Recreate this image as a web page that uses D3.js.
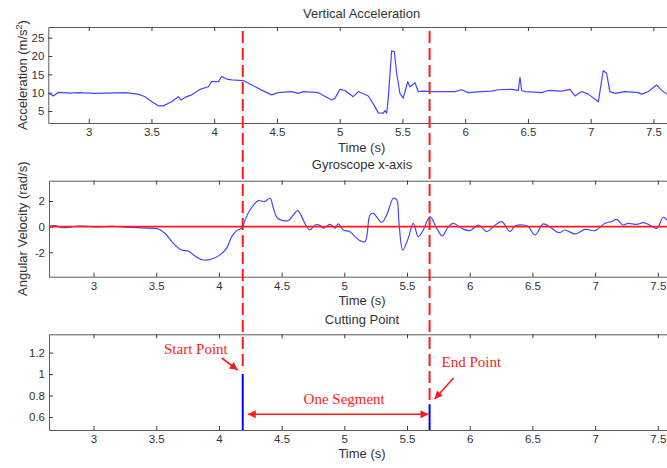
<!DOCTYPE html>
<html>
<head>
<meta charset="utf-8">
<script src="https://cdn.jsdelivr.net/npm/d3@7"></script>
<style>
  html, body { margin: 0; padding: 0; background: #fff; }
  svg { display: block; }
  .tick text { font-family: "Liberation Sans", Arial, sans-serif; font-size: 11.5px; fill: #333; }
  .lbl { font-family: "Liberation Sans", Arial, sans-serif; font-size: 13px; fill: #333; }
  .ann { font-family: "Liberation Serif", "Times New Roman", serif; font-size: 15px; fill: #ff1a1a; }
</style>
</head>
<body>
<svg id="fig" width="667" height="468"></svg>
<script>
// Vertical acceleration (m/s^2) over time (s)
const accTime = [
  2.678, 2.700, 2.718, 2.758, 2.850, 2.917, 3.050, 3.150, 3.289, 3.395,
  3.449, 3.500, 3.555, 3.594, 3.661, 3.714, 3.735, 3.767, 3.821, 3.887,
  3.953, 3.980, 4.033, 4.060, 4.100, 4.139, 4.232, 4.299, 4.378, 4.458,
  4.511, 4.618, 4.670, 4.710, 4.830, 4.936, 4.963, 5.002, 5.042, 5.108,
  5.148, 5.228, 5.281, 5.308, 5.347, 5.361, 5.375, 5.387, 5.414, 5.435,
  5.454, 5.480, 5.507, 5.542, 5.560, 5.600, 5.626, 5.666, 5.733, 5.919,
  5.972, 6.025, 6.131, 6.211, 6.264, 6.371, 6.423, 6.437, 6.450, 6.476,
  6.610, 6.662, 6.769, 6.835, 6.875, 6.928, 6.981, 7.061, 7.100, 7.127,
  7.153, 7.193, 7.273, 7.379, 7.406, 7.459, 7.525, 7.566, 7.608, 7.672
];
const accValue = [
  9.8, 9.5, 9.1, 10.1, 9.9, 10.0, 9.8, 9.9, 10.0, 9.6,
  8.9, 7.6, 6.4, 6.4, 7.5, 8.9, 8.0, 8.7, 9.4, 10.9,
  11.6, 13.0, 13.0, 14.4, 13.7, 13.5, 13.3, 12.1, 10.7, 9.4,
  10.0, 10.3, 9.8, 10.3, 10.0, 8.0, 8.5, 10.9, 10.6, 8.9,
  10.3, 9.1, 6.2, 4.5, 4.4, 5.1, 4.4, 8.5, 21.4, 21.2,
  15.3, 9.8, 8.5, 13.0, 11.6, 12.7, 10.3, 10.4, 10.3, 10.3,
  10.8, 10.0, 10.3, 10.4, 10.8, 10.9, 10.6, 14.2, 10.6, 10.3,
  10.0, 10.6, 10.4, 10.9, 9.1, 10.3, 9.6, 7.5, 16.0, 15.3,
  10.3, 9.8, 10.3, 10.0, 9.6, 10.3, 12.1, 10.6, 9.6, 10.0
];

// Gyroscope x-axis angular velocity (rad/s) over time (s)
const gyroTime = [
  2.640, 2.693, 2.746, 2.892, 3.000, 3.150, 3.250, 3.384, 3.517, 3.570,
  3.636, 3.703, 3.756, 3.809, 3.876, 3.943, 4.009, 4.062, 4.102, 4.142,
  4.182, 4.203, 4.248, 4.314, 4.362, 4.408, 4.434, 4.469, 4.553, 4.593,
  4.628, 4.660, 4.700, 4.726, 4.766, 4.806, 4.833, 4.886, 4.926, 4.952,
  4.992, 5.045, 5.085, 5.125, 5.165, 5.205, 5.231, 5.298, 5.338, 5.391,
  5.418, 5.436, 5.466, 5.510, 5.550, 5.590, 5.630, 5.683, 5.737, 5.781,
  5.829, 5.869, 5.936, 6.002, 6.069, 6.136, 6.188, 6.255, 6.321, 6.361,
  6.427, 6.467, 6.521, 6.587, 6.654, 6.712, 6.760, 6.840, 6.919, 6.999,
  7.079, 7.132, 7.172, 7.222, 7.262, 7.332, 7.384, 7.424, 7.491, 7.544,
  7.574, 7.637
];
const gyroValue = [
  0.0, 0.08, -0.08, 0.05, -0.02, 0.03, -0.03, -0.1, -0.18, -0.52,
  -1.3, -1.82, -1.9, -2.28, -2.6, -2.52, -2.2, -1.68, -0.78, -0.31,
  -0.12, 0.39, 1.3, 2.03, 1.95, 2.21, 1.43, 0.65, 0.47, 0.91,
  1.25, 0.78, 0.0, -0.26, 0.13, 0.1, -0.12, 0.18, -0.12, 0.21,
  -0.26, -0.39, -0.78, -1.09, -1.17, 0.91, 1.04, 0.34, 0.91, 2.21,
  2.08, 0.26, -1.82, -0.9, 0.26, -0.78, -0.26, 0.78, -0.13, -0.72,
  0.0, 0.26, -0.13, -0.31, 0.13, -0.39, 0.0, 0.39, -0.39, 0.05,
  0.13, 0.0, -0.65, 0.21, -0.13, -0.47, -0.26, -0.57, -0.21, -0.31,
  0.26, 0.39, 0.57, 0.13, 0.26, 0.18, 0.31, 0.18, -0.13, 0.73,
  0.52, 0.3
];

// Detected cutting points (time, stem height)
const cutTime = [4.19, 5.68];
const cutValue = [1.0, 0.72];

// Tick values
const timeTicks = [3, 3.5, 4, 4.5, 5, 5.5, 6, 6.5, 7, 7.5];
const accTicks = [5, 10, 15, 20, 25];
const gyroTicks = [-2, 0, 2];
const cutTicks = [0.6, 0.8, 1, 1.2];

const svg = d3.select("#fig");
const defs = svg.append("defs");

// Panel geometry and scales
const panels = {
  acc:  { x: d3.scaleLinear().domain([2.678, 7.672]).range([48.3, 675]),
          y: d3.scaleLinear().domain([1.73, 27.9]).range([123, 27]) },
  gyro: { x: d3.scaleLinear().domain([2.645, 7.637]).range([49, 675]),
          y: d3.scaleLinear().domain([-3.9, 3.58]).range([276.7, 180.7]) },
  cut:  { x: d3.scaleLinear().domain([2.645, 7.637]).range([49, 675]),
          y: d3.scaleLinear().domain([0.48, 1.37]).range([430, 334.3]) }
};

function drawFrame(p, id, yTicks, yFmt, title, titleY, xLabelY) {
  const [x0, x1] = p.x.range();
  const [yb, yt] = p.y.range();
  defs.append("clipPath").attr("id", id)
    .append("rect").attr("x", x0).attr("y", yt).attr("width", x1 - x0).attr("height", yb - yt);

  const g = svg.append("g");
  g.append("rect").attr("x", x0).attr("y", yt).attr("width", x1 - x0).attr("height", yb - yt)
    .attr("fill", "#fff").attr("stroke", "none");

  const bottom = g.append("g").attr("transform", `translate(0,${yb})`)
    .call(d3.axisBottom(p.x).tickValues(timeTicks).tickSizeInner(-4).tickSizeOuter(0).tickPadding(5)
      .tickFormat(d3.format("")));
  const top = g.append("g").attr("transform", `translate(0,${yt})`)
    .call(d3.axisTop(p.x).tickValues(timeTicks).tickSizeInner(-4).tickSizeOuter(0).tickFormat(""));
  const left = g.append("g").attr("transform", `translate(${x0},0)`)
    .call(d3.axisLeft(p.y).tickValues(yTicks).tickSizeInner(-4).tickSizeOuter(0).tickPadding(4)
      .tickFormat(yFmt));
  [bottom, top, left].forEach(a => {
    a.select(".domain").attr("stroke", "#5a5a5a");
    a.selectAll(".tick line").attr("stroke", "#3a3a3a");
  });

  const cx = (x0 + x1) / 2;
  svg.append("text").attr("class", "lbl").attr("x", cx).attr("y", titleY)
    .attr("text-anchor", "middle").text(title);
  svg.append("text").attr("class", "lbl").attr("x", cx).attr("y", xLabelY)
    .attr("text-anchor", "middle").text("Time (s)");
  return g;
}

const fmtPlain = d => String(d);
const signalBlue = "#4646ff";

// Panel 1: vertical acceleration
const pA = panels.acc;
drawFrame(pA, "clipAcc", accTicks, fmtPlain, "Vertical Acceleration", 18, 152);
const accLine = d3.line().x((d, i) => pA.x(accTime[i])).y(d => pA.y(d));
svg.append("path").attr("clip-path", "url(#clipAcc)")
  .attr("d", accLine(accValue)).attr("fill", "none")
  .attr("stroke", signalBlue).attr("stroke-width", 1.2).attr("stroke-linejoin", "round");
const accLbl = svg.append("text").attr("class", "lbl")
  .attr("transform", `translate(27,${(pA.y.range()[0] + pA.y.range()[1]) / 2}) rotate(-90)`)
  .attr("text-anchor", "middle");
accLbl.append("tspan").text("Acceleration (m/s");
accLbl.append("tspan").attr("font-size", "9px").attr("dy", -5).text("2");
accLbl.append("tspan").attr("dy", 5).text(")");

// Panel 2: gyroscope x-axis
const pG = panels.gyro;
drawFrame(pG, "clipGyro", gyroTicks, fmtPlain, "Gyroscope x-axis", 169, 305);
const gyroLine = d3.line().curve(d3.curveCatmullRom.alpha(0.5))
  .x((d, i) => pG.x(gyroTime[i])).y(d => pG.y(d));
svg.append("path").attr("clip-path", "url(#clipGyro)")
  .attr("d", gyroLine(gyroValue)).attr("fill", "none")
  .attr("stroke", signalBlue).attr("stroke-width", 1.2);
svg.append("line").attr("clip-path", "url(#clipGyro)")
  .attr("x1", pG.x.range()[0]).attr("x2", pG.x.range()[1])
  .attr("y1", pG.y(0)).attr("y2", pG.y(0))
  .attr("stroke", "#ff1a1a").attr("stroke-width", 1.8);
svg.append("text").attr("class", "lbl")
  .attr("transform", `translate(27,${(pG.y.range()[0] + pG.y.range()[1]) / 2}) rotate(-90)`)
  .attr("text-anchor", "middle").text("Angular Velocity (rad/s)");

// Panel 3: cutting points
const pC = panels.cut;
drawFrame(pC, "clipCut", cutTicks, fmtPlain, "Cutting Point", 324, 458);
svg.append("g").attr("clip-path", "url(#clipCut)")
  .selectAll("line.stem").data(cutValue).join("line").attr("class", "stem")
  .attr("x1", (d, i) => pC.x(cutTime[i])).attr("x2", (d, i) => pC.x(cutTime[i]))
  .attr("y1", pC.y.range()[0]).attr("y2", d => pC.y(d))
  .attr("stroke", "#0000ff").attr("stroke-width", 2);

// Dashed segment boundaries across all panels
svg.append("g").selectAll("line.cut").data(cutValue).join("line").attr("class", "cut")
  .attr("x1", (d, i) => pC.x(cutTime[i])).attr("x2", (d, i) => pC.x(cutTime[i]))
  .attr("y1", 31).attr("y2", d => pC.y(d) - 3)
  .attr("stroke", "#ff1a1a").attr("stroke-width", 2).attr("stroke-dasharray", "12,5");

// Annotations
defs.append("marker").attr("id", "head").attr("viewBox", "0 0 10 10")
  .attr("refX", 10).attr("refY", 5).attr("markerWidth", 10).attr("markerHeight", 8)
  .attr("markerUnits", "userSpaceOnUse").attr("orient", "auto-start-reverse")
  .append("path").attr("d", "M0,0 L10,5 L0,10 z").attr("fill", "#ff1a1a");

const xs = pC.x(cutTime[0]);
const xe = pC.x(cutTime[1]);
const red = "#ff1a1a";

svg.append("text").attr("class", "ann").attr("x", xs - 15).attr("y", 354)
  .attr("text-anchor", "end").text("Start Point");
svg.append("line").attr("x1", xs - 21).attr("y1", 358).attr("x2", xs - 5).attr("y2", 370)
  .attr("stroke", red).attr("stroke-width", 1.6).attr("marker-end", "url(#head)");

svg.append("text").attr("class", "ann").attr("x", xe + 12).attr("y", 367)
  .attr("text-anchor", "start").text("End Point");
svg.append("line").attr("x1", xe + 24).attr("y1", 378).attr("x2", xe + 5).attr("y2", 399)
  .attr("stroke", red).attr("stroke-width", 1.6).attr("marker-end", "url(#head)");

svg.append("text").attr("class", "ann").attr("x", (xs + xe) / 2 + 8).attr("y", 404)
  .attr("text-anchor", "middle").text("One Segment");
svg.append("line").attr("x1", xs + 5).attr("y1", 414.3).attr("x2", xe - 1).attr("y2", 414.3)
  .attr("stroke", red).attr("stroke-width", 1.6)
  .attr("marker-start", "url(#head)").attr("marker-end", "url(#head)");
</script>
</body>
</html>
